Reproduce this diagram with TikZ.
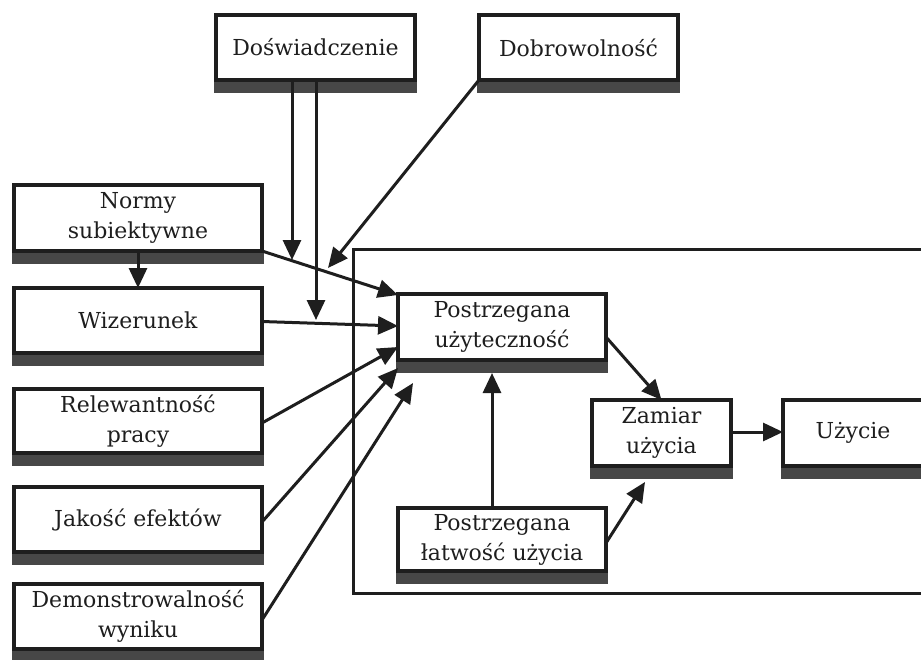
\documentclass[tikz,border=0pt]{standalone}
\usepackage{fontspec}
\setmainfont{DejaVu Serif}
\usetikzlibrary{arrows.meta,backgrounds}
\definecolor{ink}{HTML}{1E1E1E}
\definecolor{band}{HTML}{474747}
\tikzset{
  box/.style={draw=ink, line width=3.2pt, fill=white, outer sep=0pt, inner sep=2pt,
              align=center, text=ink, font=\fontsize{22}{30}\selectfont},
  link/.style={draw=ink, line width=3pt, -{Triangle[length=20pt,width=18pt]}},
  frame/.style={draw=ink, line width=3pt},
}
% dark strip under the lower edge of a box
\newcommand\shadowband[1]{%
  \fill[band] ([xshift=-1.6pt]#1.south west) rectangle ([xshift=1.6pt,yshift=-13pt]#1.south east);}
\begin{document}
\begin{tikzpicture}[x=1pt,y=-1pt]
\useasboundingbox (0,0) rectangle (921,659);
\clip (0,0) rectangle (921,659);

% enclosing frame of the core model
\draw[frame] (353,249) rectangle (940,593);

% boxes
\node[box, minimum width=199pt, minimum height=65pt] (dos) at (315.5,47.5) {Doświadczenie};
\node[box, minimum width=199pt, minimum height=65pt] (dob) at (578.5,47.5) {Dobrowolność};
\node[box, minimum width=248pt, minimum height=66pt] (nor) at (138,218) {Normy\\subiektywne};
\node[box, minimum width=248pt, minimum height=65pt] (wiz) at (138,320.5) {Wizerunek};
\node[box, minimum width=248pt, minimum height=64pt] (rel) at (138,421) {Relewantność\\pracy};
\node[box, minimum width=248pt, minimum height=65pt] (jak) at (138,519.5) {Jakość efektów};
\node[box, minimum width=248pt, minimum height=65pt] (dem) at (138,616.5) {Demonstrowalność\\wyniku};
\node[box, minimum width=208pt, minimum height=66pt] (pu)  at (502,327) {Postrzegana\\użyteczność};
\node[box, minimum width=208pt, minimum height=63pt] (plu) at (502,539.5) {Postrzegana\\łatwość użycia};
\node[box, minimum width=139pt, minimum height=66pt] (za)  at (661.5,433) {Zamiar\\użycia};
\node[box, minimum width=140pt, minimum height=66pt] (uz)  at (853,433) {Użycie};

\begin{scope}[on background layer]
  \foreach \n in {dos,dob,nor,wiz,rel,jak,dem,pu,plu,za,uz} {\shadowband{\n}}
\end{scope}

% connector end points
\coordinate (puA) at ([yshift=-1pt]pu.north west);
\coordinate (puB) at ([yshift=1pt]pu.west);
\coordinate (puC) at ([yshift=-20pt]pu.west);
\coordinate (puD) at ([yshift=-41pt]pu.west);
\coordinate (puE) at (413,383);
\coordinate (puF) at (492,373);
\coordinate (zaB) at (645,482);
\coordinate (modN) at (292,260);
\coordinate (modW) at (316,320);
\coordinate (volN) at (328,268);

% connectors
\draw[link] (nor.south) -- (wiz.north);
\draw[link] (nor.south east) -- (puA);
\draw[link] ([yshift=-1pt]wiz.east) -- (puB);
\draw[link] ([yshift=-2pt]rel.east) -- (puC);
\draw[link] ([yshift=-2.5pt]jak.east) -- (puD);
\draw[link] ([yshift=-3.5pt]dem.east) -- (puE);
\draw[link] ([xshift=-23.5pt]dos.south) -- (modN);
\draw[link] ([xshift=0.5pt]dos.south) -- (modW);
\draw[link] (dob.south west) -- (volN);
\draw[link] ([yshift=-10pt]pu.east) -- (za.north);
\draw[link] ([xshift=-10pt]plu.north) -- (puF);
\draw[link] ([yshift=-3.5pt]plu.east) -- (zaB);
\draw[link] ([yshift=1pt]za.east) -- ([yshift=1pt]uz.west);
\end{tikzpicture}
\end{document}
